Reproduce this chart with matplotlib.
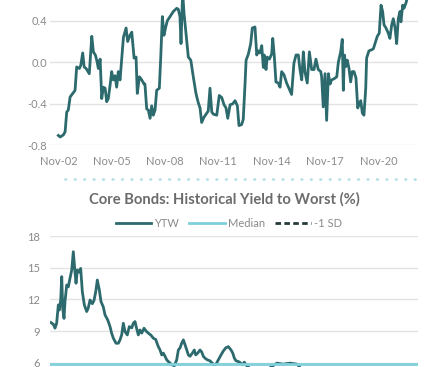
import matplotlib
matplotlib.use("Agg")
import matplotlib.pyplot as plt
from matplotlib.lines import Line2D

plt.rcParams['font.family'] = ['Lato', 'DejaVu Sans']

# spread series (top panel), decimal years
spread_years = [2002.83, 2002.93, 2003.11, 2003.21, 2003.30, 2003.39, 2003.49, 2003.64, 2003.77, 2003.86,
                2004.01, 2004.09, 2004.20, 2004.28, 2004.39, 2004.46, 2004.57, 2004.71, 2004.80, 2004.91,
                2004.99, 2005.08, 2005.18, 2005.27, 2005.36, 2005.46, 2005.55, 2005.64, 2005.74, 2005.83,
                2005.92, 2006.02, 2006.11, 2006.20, 2006.30, 2006.49, 2006.64, 2006.73, 2006.86, 2006.96,
                2007.09, 2007.20, 2007.27, 2007.39, 2007.52, 2007.65, 2007.70, 2007.80, 2007.89, 2007.99,
                2008.08, 2008.17, 2008.27, 2008.36, 2008.51, 2008.59, 2008.68, 2008.77, 2008.87, 2008.96,
                2009.11, 2009.30, 2009.49, 2009.58, 2009.67, 2009.73, 2009.82, 2009.90, 2010.05, 2010.14,
                2010.28, 2010.42, 2010.57, 2010.70, 2010.80, 2010.89, 2011.02, 2011.14, 2011.26, 2011.36,
                2011.46, 2011.55, 2011.74, 2011.88, 2012.02, 2012.15, 2012.26, 2012.36, 2012.49, 2012.64,
                2012.77, 2012.90, 2012.99, 2013.14, 2013.23, 2013.33, 2013.39, 2013.52, 2013.65, 2013.74,
                2013.89, 2013.99, 2014.08, 2014.17, 2014.27, 2014.36, 2014.41, 2014.51, 2014.58, 2014.70,
                2014.83, 2014.89, 2014.98, 2015.07, 2015.20, 2015.30, 2015.39, 2015.52, 2015.67, 2015.82,
                2015.95, 2016.08, 2016.20, 2016.33, 2016.42, 2016.52, 2016.61, 2016.70, 2016.83, 2016.95,
                2017.08, 2017.21, 2017.32, 2017.45, 2017.59, 2017.64, 2017.73, 2017.83, 2017.92, 2018.02,
                2018.11, 2018.20, 2018.33, 2018.49, 2018.58, 2018.71, 2018.80, 2018.86, 2018.92, 2019.01,
                2019.08, 2019.18, 2019.27, 2019.36, 2019.46, 2019.57, 2019.67, 2019.76, 2019.84, 2019.93,
                2020.02, 2020.12, 2020.17, 2020.30, 2020.45, 2020.55, 2020.64, 2020.77, 2020.88, 2020.98,
                2021.07, 2021.15, 2021.26, 2021.39, 2021.48, 2021.58, 2021.67, 2021.77, 2021.86, 2021.95,
                2022.05, 2022.10, 2022.20, 2022.27, 2022.38, 2022.46]
spread_vals = [-0.705, -0.72, -0.70, -0.67, -0.48, -0.46, -0.335, -0.30, -0.27, -0.045,
               -0.06, -0.03, 0.09, -0.045, -0.06, -0.08, -0.11, 0.25, 0.10, 0.07,
               0.02, -0.06, 0.03, -0.35, -0.24, -0.25, -0.38, -0.35, -0.22, -0.09,
               -0.17, -0.13, -0.24, -0.09, -0.17, 0.24, 0.33, 0.20, 0.26, 0.29,
               0.04, 0.05, -0.30, -0.14, -0.17, -0.21, -0.21, -0.45, -0.46, -0.54,
               -0.42, -0.51, -0.46, -0.27, -0.25, 0.05, 0.44, 0.26, 0.34, 0.40,
               0.44, 0.49, 0.52, 0.51, 0.44, 0.18, 0.68, 0.47, 0.21, 0.05,
               0.02, -0.14, -0.30, -0.39, -0.44, -0.58, -0.53, -0.50, -0.47, -0.25,
               -0.48, -0.50, -0.51, -0.32, -0.34, -0.41, -0.44, -0.54, -0.41, -0.40,
               -0.37, -0.42, -0.61, -0.60, -0.55, -0.21, 0.02, 0.08, 0.18, 0.33,
               0.34, 0.07, 0.11, 0.09, 0.16, -0.05, 0.07, -0.07, 0.05, 0.03,
               0.08, 0.23, 0.05, -0.19, -0.20, -0.24, -0.09, -0.12, -0.20, -0.26,
               -0.31, -0.01, 0.07, 0.07, -0.07, -0.17, 0.10, -0.09, -0.20, 0.10,
               -0.07, -0.07, 0.03, -0.07, -0.09, -0.14, -0.43, -0.11, -0.56, -0.11,
               -0.21, -0.17, -0.16, -0.14, 0.00, 0.10, 0.22, -0.27, 0.07, -0.04,
               0.02, -0.06, -0.19, -0.09, -0.09, -0.15, -0.44, -0.40, -0.37, -0.49,
               -0.51, -0.25, 0.04, 0.11, 0.12, 0.13, 0.18, 0.25, 0.28, 0.55,
               0.49, 0.36, 0.33, 0.28, 0.23, 0.36, 0.42, 0.33, 0.18, 0.42,
               0.49, 0.39, 0.55, 0.52, 0.57, 0.62]
spread_ticks = [2002.83, 2005.83, 2008.83, 2011.83, 2014.83, 2017.83, 2020.83]
spread_tick_labels = ['Nov-02', 'Nov-05', 'Nov-08', 'Nov-11', 'Nov-14', 'Nov-17', 'Nov-20']

# core bonds yield to worst (bottom panel)
ytw_years = [1980.11, 1980.38, 1980.57, 1980.76, 1980.95, 1981.06, 1981.22, 1981.34, 1981.45, 1981.60,
             1981.71, 1981.91, 1982.09, 1982.28, 1982.48, 1982.66, 1982.85, 1982.97, 1983.12, 1983.34,
             1983.50, 1983.69, 1983.92, 1984.19, 1984.37, 1984.57, 1984.83, 1985.02, 1985.22, 1985.40,
             1985.63, 1985.82, 1986.08, 1986.28, 1986.59, 1986.85, 1987.04, 1987.23, 1987.53, 1987.80,
             1987.99, 1988.18, 1988.37, 1988.56, 1988.82, 1989.05, 1989.33, 1989.51, 1989.70, 1989.90,
             1990.08, 1990.27, 1990.47, 1990.73, 1990.96, 1991.22, 1991.53, 1991.79, 1992.06, 1992.36,
             1992.56, 1992.75, 1992.93, 1993.13, 1993.32, 1993.58, 1993.89, 1994.19, 1994.46, 1994.65,
             1994.84, 1995.03, 1995.22, 1995.41, 1995.61, 1995.79, 1995.98, 1996.25, 1996.47, 1996.63,
             1996.86, 1997.12, 1997.32, 1997.50, 1997.69, 1997.96, 1998.26, 1998.46, 1998.72, 1998.95,
             1999.21, 1999.52, 1999.78, 2000.06, 2000.35, 2000.66, 2000.86, 2001.04, 2001.23, 2001.50,
             2001.69, 2001.95, 2002.18, 2002.34, 2003.40, 2005.10, 2005.90, 2006.60, 2007.40, 2008.20,
             2009.10]
ytw_vals = [9.80, 9.65, 9.27, 9.75, 11.48, 11.0, 11.95, 14.17, 11.16, 10.2,
            11.8, 13.38, 13.2, 14.0, 14.8, 16.54, 14.6, 13.54, 14.8, 14.6,
            14.95, 12.74, 11.48, 10.85, 11.2, 11.95, 11.6, 11.9, 12.74, 13.85,
            12.9, 11.8, 11.3, 10.53, 10.05, 9.42, 8.78, 8.32, 7.84, 7.84,
            8.16, 8.63, 9.74, 8.95, 8.63, 9.42, 9.3, 9.74, 9.9, 9.2,
            8.63, 9.1, 8.8, 9.27, 9.0, 8.8, 8.6, 8.32, 8.2, 7.52,
            7.2, 6.73, 6.9, 6.6, 6.26, 6.04, 5.8, 5.7, 6.26, 7.2,
            7.4, 7.84, 8.16, 7.7, 7.2, 6.73, 6.6, 6.9, 7.2, 6.73,
            6.9, 7.2, 7.0, 6.6, 6.42, 6.26, 6.17, 5.99, 5.8, 5.85,
            6.26, 6.73, 7.1, 7.4, 7.52, 7.2, 6.9, 6.42, 6.17, 6.1,
            6.0, 5.8, 6.04, 5.8, 5.0, 5.5, 5.95, 5.85, 5.95, 5.85,
            5.0]
ytw_median = 5.83
ytw_ticks = [6, 9, 12, 15, 18]

dark = '#2c6a6e'
light = '#7fd0da'
grid_c = '#e3e3e3'
text_c = '#8a8a8a'

fig = plt.figure(figsize=(4.41, 3.67), dpi=100)

# top panel (clipped by the top of the image)
ax1 = fig.add_axes([50 / 441, 0.6041, 368 / 441, 0.3959])
ax1.plot(spread_years, spread_vals, color=dark, lw=2.0)
ax1.set_xlim(2002.36, 2023.06)
ax1.set_ylim(-0.8, 0.6)
ax1.set_yticks([-0.8, -0.4, 0.0, 0.4])
ax1.set_yticklabels(['-0.8', '-0.4', '0.0', '0.4'])
ax1.set_xticks(spread_ticks)
ax1.set_xticklabels(spread_tick_labels)
ax1.grid(axis='y', color=grid_c, lw=1)
ax1.set_axisbelow(True)
for s in ax1.spines.values():
    s.set_visible(False)
ax1.tick_params(length=0, labelsize=8, labelcolor=text_c)
ax1.tick_params(axis='x', pad=8)
ax1.tick_params(axis='y', pad=2)

# dotted separator
fig.add_artist(Line2D([65 / 441, 418 / 441], [0.511, 0.511], color='#b5e0e6', lw=2.0,
                      linestyle=(0, (0.2, 3.2)), dash_capstyle='round', transform=fig.transFigure))

fig.text(0.509, 0.458, 'Core Bonds: Historical Yield to Worst (%)', ha='center', va='center',
         fontsize=10.6, fontweight='bold', color='#6b6b6b')

# bottom panel (runs past the bottom of the image)
ax2 = fig.add_axes([50 / 441, -0.160, 368 / 441, 0.516])
ax2.plot(ytw_years, ytw_vals, color=dark, lw=2.0, label='YTW')
ax2.axhline(ytw_median, color=light, lw=2.0, label='Median')
ax2.plot([], [], color='#26393b', lw=2.0, ls=(0, (2, 1.2)), label='-1 SD')
ax2.set_xlim(1980, 2022.0)
ax2.set_ylim(0, 18)
ax2.set_yticks(ytw_ticks)
ax2.set_xticks([])
ax2.grid(axis='y', color=grid_c, lw=1)
ax2.set_axisbelow(True)
for s in ax2.spines.values():
    s.set_visible(False)
ax2.tick_params(length=0, labelsize=8, labelcolor=text_c, pad=7)

h, l = ax2.get_legend_handles_labels()
fig.legend(h, l, loc='center', bbox_to_anchor=(0.519, 0.390), ncol=3, frameon=False,
           fontsize=8, labelcolor=text_c, handlelength=3.2, handletextpad=0.3, columnspacing=0.9)

fig.savefig('out.png', dpi=100)
